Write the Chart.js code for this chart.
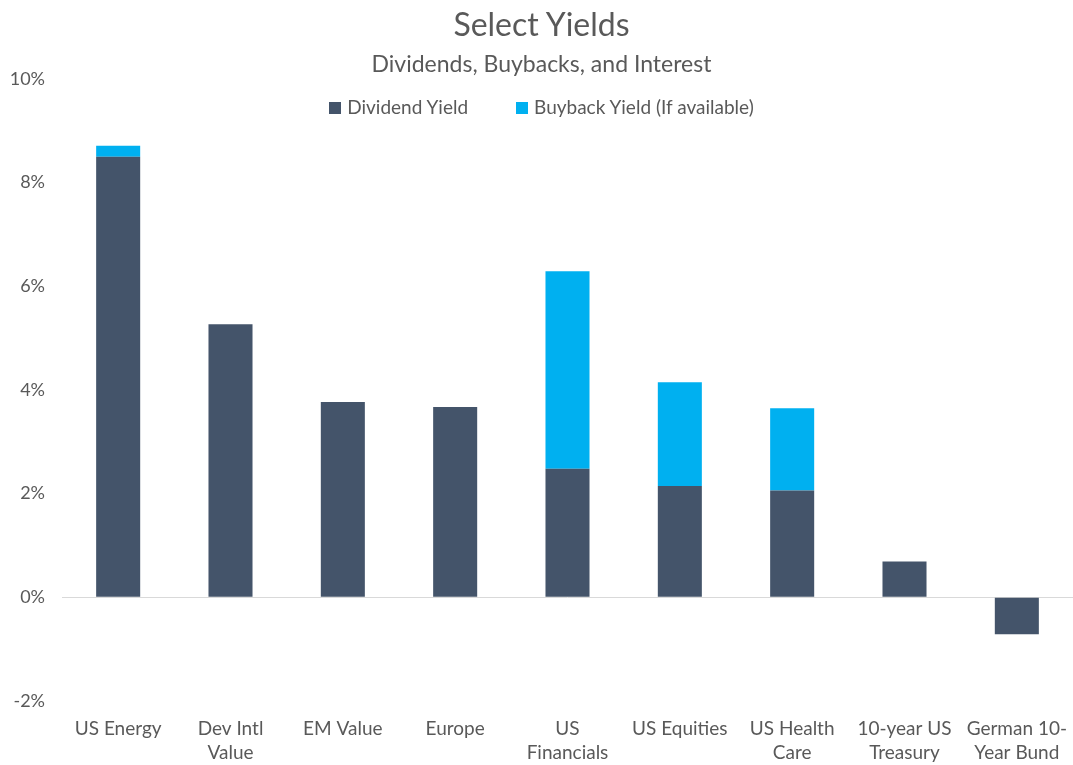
<!DOCTYPE html>
<html>
<head>
<meta charset="utf-8">
<script src="https://cdn.jsdelivr.net/npm/chart.js@4.4.0/dist/chart.umd.min.js"></script>
<style>
    body { margin: 0; background: #fff; font-family: Lato, "Open Sans", sans-serif; overflow: hidden; }
    #wrap { position: relative; width: 1073px; height: 765px; }
    .title { position: absolute; left: 0; width: 1073px; padding-left: 10px; box-sizing: border-box; text-align: center; color: #595959; }
    #t1 { top: 4px; font-size: 32px; }
    #t2 { top: 49px; font-size: 23px; }
    #legend { position: absolute; top: 95px; left: 0; width: 1073px; padding-left: 10px; box-sizing: border-box; text-align: center; font-size: 19px; color: #595959; }
    #legend span.item { margin: 0 24px; }
    #legend i { display: inline-block; width: 12px; height: 12px; margin-right: 6px; vertical-align: 0px; }
</style>
</head>
<body>
<div id="wrap">
    <canvas id="chart"></canvas>
    <div class="title" id="t1">Select Yields</div>
    <div class="title" id="t2">Dividends, Buybacks, and Interest</div>
    <div id="legend"></div>
</div>
<script>
const categories = [
    ["US Energy"], ["Dev Intl", "Value"], ["EM Value"], ["Europe"], ["US", "Financials"],
    ["US Equities"], ["US Health", "Care"], ["10-year US", "Treasury"], ["German 10-", "Year Bund"]
];
const dividendYield = [8.5, 5.27, 3.77, 3.67, 2.48, 2.15, 2.06, 0.69, -0.71];
const buybackYield = [0.21, null, null, null, 3.81, 2.0, 1.59, null, null];
const seriesNames = ["Dividend Yield", "Buyback Yield (If available)"];
const seriesColors = ["#44546A", "#00B0F0"];

document.getElementById("legend").innerHTML = seriesNames
    .map((n, i) => `<span class="item"><i style="background:${seriesColors[i]}"></i>${n}</span>`)
    .join("");

const ctx = document.getElementById("chart").getContext("2d");
new Chart(ctx, {
    type: "bar",
    data: {
        labels: categories,
        datasets: [
            { label: seriesNames[0], data: dividendYield, backgroundColor: seriesColors[0] },
            { label: seriesNames[1], data: buybackYield, backgroundColor: seriesColors[1] }
        ]
    },
    options: {
        responsive: true,
        maintainAspectRatio: false,
        animation: false,
        layout: { padding: { top: 79, right: 0, left: 0, bottom: 0 } },
        categoryPercentage: 0.8,
        barPercentage: 0.49,
        plugins: {
            legend: { display: false },
            title: { display: false },
            tooltip: { enabled: false }
        },
        scales: {
            x: {
                stacked: true,
                afterFit: scale => {
                    scale.height = 64;
                    scale.paddingLeft = 0;
                    scale.paddingRight = 0;
                },
                grid: { display: false },
                border: { display: false },
                ticks: { color: "#595959", font: { family: "Lato", size: 19, lineHeight: 1.26 }, maxRotation: 0, padding: 8 }
            },
            y: {
                stacked: true,
                min: -2, max: 10,
                afterFit: scale => { scale.width = 62; },
                ticks: {
                    stepSize: 2,
                    color: "#595959",
                    font: { family: "Lato", size: 18 },
                    padding: 17,
                    callback: v => v + "%"
                },
                grid: {
                    drawTicks: false,
                    color: c => c.tick && c.tick.value === 0 ? "#d9d9d9" : "rgba(0,0,0,0)"
                },
                border: { display: false }
            }
        }
    }
});
</script>
</body>
</html>
